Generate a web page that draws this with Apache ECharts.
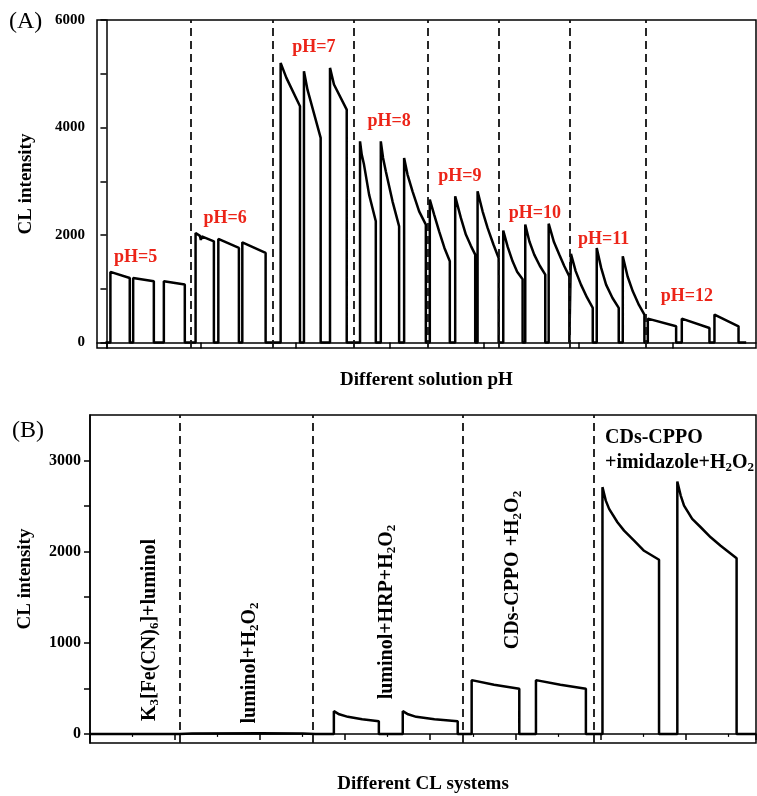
<!DOCTYPE html>
<html>
<head>
<meta charset="utf-8">
<script src="https://cdn.jsdelivr.net/npm/echarts@6/dist/echarts.min.js"></script>
<style>
  html, body { margin: 0; padding: 0; background: #fff; }
  #main { width: 757px; height: 796px; }
</style>
</head>
<body>
<div id="main"></div>
<script>
var chart = echarts.init(document.getElementById('main'));

// (A) CL traces for each pH, [time, intensity]
var pH5 = [[-0.1,0],[0.42,0],[0.42,1315],[2.47,1203],[2.47,0],[2.83,0],[2.83,1203],[5.02,1140],[5.02,0],[6.08,0],[6.08,1140],[8.30,1079],[8.30,0]];
var pH6 = [[9.44,0],[9.44,2040],[9.9,1985],[10.0,1910],[10.1,1975],[11.38,1884],[11.38,0],[11.85,0],[11.85,1929],[14.03,1761],[14.03,0],[14.39,0],[14.39,1866],[16.86,1668],[16.86,0]];
var pH7 = [[18.45,0],[18.45,5202],[19.06,4923],[20.50,4395],[20.50,0],[20.92,0],[20.92,5046],[21.3,4700],[22.69,3807],[22.69,0],[23.68,0],[23.68,5109],[24.1,4800],[25.45,4334],[25.45,0]];
var pH8 = [[26.86,0],[26.86,3744],[27.04,3497],[27.28,3311],[27.82,2753],[28.53,2256],[28.53,0],[29.06,0],[29.06,3744],[29.3,3435],[29.59,3189],[30.30,2628],[31.00,2163],[31.00,0],[31.53,0],[31.53,3435],[31.89,3125],[32.42,2814],[33.12,2442],[33.83,2195],[33.83,0]];
var pH9 = [[34.25,0],[34.25,2660],[34.71,2381],[35.24,2070],[35.8,1760],[36.37,1512],[36.37,0],[36.94,0],[36.94,2721],[37.54,2319],[38.07,2009],[38.6,1800],[39.06,1637],[39.06,0],[39.31,0],[39.31,2814],[39.84,2442],[40.37,2133],[41.0,1820],[41.54,1575],[41.54,0]];
var pH10 = [[42.03,0],[42.03,2083],[42.5,1780],[43.02,1512],[43.5,1320],[44.08,1180],[44.08,0],[44.36,0],[44.36,2195],[44.8,1880],[45.31,1637],[45.9,1430],[46.48,1265],[46.48,0],[46.84,0],[46.84,2213],[47.4,1870],[47.96,1637],[48.5,1420],[49.03,1233],[49.03,0]];
var pH11 = [[49.20,0],[49.20,1650],[49.7,1330],[50.26,1079],[50.9,840],[51.51,645],[51.51,0],[51.93,0],[51.93,1760],[52.4,1390],[52.92,1079],[53.6,830],[54.26,645],[54.26,0],[54.69,0],[54.69,1605],[55.2,1230],[55.75,954],[56.4,700],[56.98,521],[56.98,0]];
var pH12 = [[57.34,0],[57.34,446],[60.34,303],[60.34,0],[60.94,0],[60.94,446],[63.87,273],[63.87,0],[64.40,0],[64.40,521],[66.95,303],[66.95,0],[67.76,0]];
var dividersA = [8.91, 17.64, 26.22, 34.07, 41.60, 49.10, 57.16];

var phNames = ['pH=5','pH=6','pH=7','pH=8','pH=9','pH=10','pH=11','pH=12'];
var phLabelX = [3.08, 12.57, 21.98, 29.94, 37.43, 45.39, 52.65, 61.47];
var phLabelY = [1581, 2306, 5500, 4116, 3093, 2412, 1916, 861];

// (B) CL trace of the different systems
var traceB = [[0,0],[10.5,0],[12,3],[20,6],[25,3],[26.5,0],[28.67,0],[28.67,249],[29.3,215],[30.32,187],[32,160],[33.96,139],[33.96,0],
  [36.77,0],[36.77,249],[37.4,215],[38.35,187],[40.5,160],[43.23,139],[43.23,0],[44.87,0],[44.87,590],[47.5,540],[50.47,495],[50.47,0],
  [52.43,0],[52.43,590],[55.3,540],[58.30,495],[58.30,0],
  [60.25,0],[60.25,2708],[60.64,2560],[61.03,2470],[62.01,2323],[62.79,2231],[63.97,2121],[65.14,2010],[66.90,1911],[66.90,0],
  [69.05,0],[69.05,2770],[69.45,2616],[69.84,2506],[70.80,2359],[71.80,2268],[72.97,2158],[74.14,2065],[76.02,1927],[76.02,0],[78.3,0]];
var dividersB = [10.56, 26.2, 43.82, 59.27];

var serif = 'Liberation Serif';
var red = '#ec2418';

var traceA = [].concat(pH5, pH6, pH7, pH8, pH9, pH10, pH11, pH12);
var phLabelData = phNames.map(function (n, i) {
  return { name: n, value: [phLabelX[i], phLabelY[i]] };
});

function dashed(vals) {
  return {
    silent: true,
    symbol: 'none',
    label: { show: false },
    lineStyle: { color: '#111', width: 1.8, type: [8, 5] },
    data: vals.map(function (v) { return { xAxis: v }; })
  };
}

function plain(v) { return String(v); }

var axisName = { fontFamily: serif, fontSize: 19, fontWeight: 'bold', color: '#000' };
var tickLabel = { fontFamily: serif, fontWeight: 'bold', color: '#000', formatter: plain };
var rich = {
  n: { fontFamily: serif, fontSize: 20, fontWeight: 'bold', color: '#000', lineHeight: 22 },
  s: { fontFamily: serif, fontSize: 13, fontWeight: 'bold', color: '#000', lineHeight: 13, verticalAlign: 'bottom', padding: [7, 0, 0, 0] }
};

function vtext(x, y, txt) {
  return { type: 'text', x: x, y: y, rotation: Math.PI / 2,
    style: { text: txt, rich: rich, align: 'center', verticalAlign: 'middle' } };
}

option = {
  animation: false,
  backgroundColor: '#fff',
  grid: [
    { left: 97, top: 20, right: 1, height: 328, show: true, borderColor: '#000', borderWidth: 1.5 },
    { left: 90, top: 415, right: 1, height: 328, show: true, borderColor: '#000', borderWidth: 1.5 }
  ],
  xAxis: [
    {
      type: 'value', gridIndex: 0, min: -1, max: 68.8,
      axisLine: { lineStyle: { color: '#000', width: 1.5 } },
      axisTick: { customValues: [0, 10, 20, 30, 40, 50, 60], length: 6, lineStyle: { color: '#000', width: 1.5 } },
      axisLabel: { show: false },
      splitLine: { show: false },
      name: 'Different solution pH', nameLocation: 'middle', nameGap: 23, nameTextStyle: axisName
    },
    {
      type: 'value', gridIndex: 1, min: 0, max: 78.3, interval: 10,
      axisLine: { lineStyle: { color: '#000', width: 1.5 } },
      axisTick: { length: 6, lineStyle: { color: '#000', width: 1.5 } },
      minorTick: { show: true, splitNumber: 2, length: 3, lineStyle: { color: '#000', width: 1.2 } },
      axisLabel: { show: false },
      splitLine: { show: false },
      minorSplitLine: { show: false },
      name: 'Different CL systems', nameLocation: 'middle', nameGap: 32, nameTextStyle: axisName
    }
  ],
  yAxis: [
    {
      type: 'value', gridIndex: 0, min: -100, max: 6000,
      axisLine: { show: true, lineStyle: { color: '#000', width: 1.5 } },
      axisTick: { show: true, customValues: [0, 1000, 2000, 3000, 4000, 5000, 6000], length: 6, lineStyle: { color: '#000', width: 1.5 } },
      axisLabel: Object.assign({ customValues: [0, 2000, 4000, 6000], fontSize: 15, margin: 12 }, tickLabel),
      splitLine: { show: false },
      name: 'CL intensity', nameLocation: 'middle', nameGap: 61, nameTextStyle: axisName
    },
    {
      type: 'value', gridIndex: 1, min: -100, max: 3500,
      axisLine: { show: true, lineStyle: { color: '#000', width: 1.5 } },
      axisTick: { show: true, customValues: [0, 500, 1000, 1500, 2000, 2500, 3000], length: 6, lineStyle: { color: '#000', width: 1.5 } },
      axisLabel: Object.assign({ customValues: [0, 1000, 2000, 3000], fontSize: 16, margin: 9 }, tickLabel),
      splitLine: { show: false },
      name: 'CL intensity', nameLocation: 'middle', nameGap: 55, nameTextStyle: axisName
    }
  ],
  series: [
    {
      type: 'line', xAxisIndex: 0, yAxisIndex: 0, data: traceA,
      symbol: 'none', lineStyle: { color: '#000', width: 2.5 },
      markLine: dashed(dividersA)
    },
    {
      type: 'scatter', xAxisIndex: 0, yAxisIndex: 0, data: phLabelData,
      symbolSize: 0, silent: true, itemStyle: { opacity: 1 },
      label: { show: true, position: 'inside', formatter: '{b}', color: red, opacity: 1,
        fontFamily: serif, fontSize: 18, fontWeight: 'bold' }
    },
    {
      type: 'line', xAxisIndex: 1, yAxisIndex: 1, data: traceB,
      symbol: 'none', lineStyle: { color: '#000', width: 2.5 },
      markLine: dashed(dividersB)
    }
  ],
  graphic: [
    { type: 'text', left: 9, top: 10, style: { text: '(A)', fontFamily: serif, fontSize: 24, fill: '#000' } },
    { type: 'text', left: 12, top: 419, style: { text: '(B)', fontFamily: serif, fontSize: 24, fill: '#000' } },
    vtext(150, 630, '{n|K}{s|3}{n|[Fe(CN)}{s|6}{n|]+luminol}'),
    vtext(250, 663, '{n|luminol+H}{s|2}{n|O}{s|2}'),
    vtext(387, 612, '{n|luminol+HRP+H}{s|2}{n|O}{s|2}'),
    vtext(513, 570, '{n|CDs-CPPO +H}{s|2}{n|O}{s|2}'),
    { type: 'text', x: 605, y: 438, style: { text: '{n|CDs-CPPO}', rich: rich, verticalAlign: 'middle' } },
    { type: 'text', x: 605, y: 463, style: { text: '{n|+imidazole+H}{s|2}{n|O}{s|2}', rich: rich, verticalAlign: 'middle' } }
  ]
};

chart.setOption(option);
</script>
</body>
</html>
